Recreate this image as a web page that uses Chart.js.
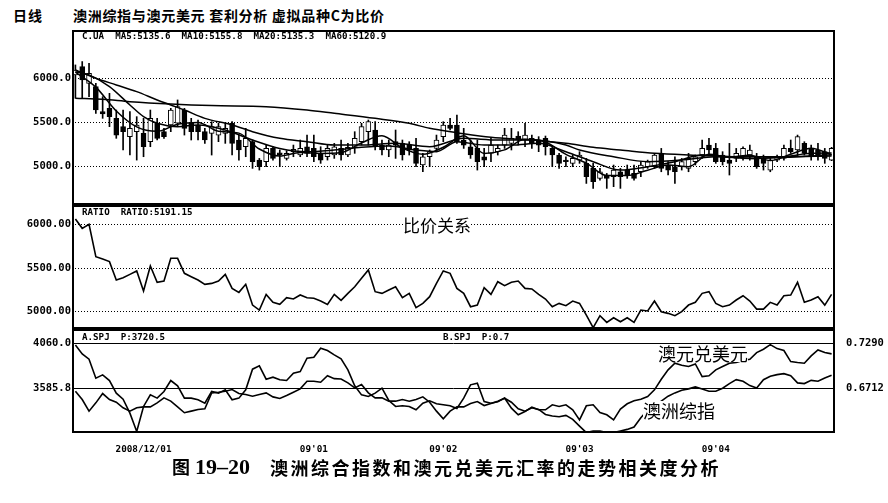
<!DOCTYPE html>
<html>
<head>
<meta charset="utf-8">
<script src="https://cdn.jsdelivr.net/npm/chart.js@4.4.1/dist/chart.umd.min.js"></script>
<style>
  body { margin: 0; background: #fff; }
  #wrap { position: relative; width: 888px; height: 503px; overflow: hidden; font-family: "Noto Sans CJK SC", sans-serif; color: #000; }
  canvas { position: absolute; left: 0; }
  .t { position: absolute; white-space: pre; line-height: 1; }
  .mono { font-family: "DejaVu Sans Mono", monospace; font-weight: bold; font-size: 9.2px; }
  .note { background: #fff; font-size: 18px; }
</style>
</head>
<body>
<div id="wrap">
  <div class="t" style="left:13px;top:8px;font-size:14px;font-weight:bold;letter-spacing:1px">日线</div>
  <div class="t" style="left:73px;top:8px;font-size:14px;font-weight:bold;letter-spacing:0.7px">澳洲综指与澳元美元 套利分析 虚拟品种C为比价</div>

  <canvas id="c1" width="888" height="175" style="top:30px"></canvas>
  <canvas id="c2" width="888" height="124" style="top:205px"></canvas>
  <canvas id="c3" width="888" height="126" style="top:329px"></canvas>

  <div class="t mono" style="left:82px;top:31px">C.UA  MA5:5135.6  MA10:5155.8  MA20:5135.3  MA60:5120.9</div>
  <div class="t mono" style="left:82px;top:207px">RATIO  RATIO:5191.15</div>
  <div class="t mono" style="left:82px;top:332px">A.SPJ  P:3720.5</div>
  <div class="t mono" style="left:443px;top:332px">B.SPJ  P:0.7</div>

  <div class="t note" style="left:403px;top:216px;font-size:17px">比价关系</div>
  <div class="t note" style="left:658px;top:344px">澳元兑美元</div>
  <div class="t note" style="left:643px;top:401px">澳洲综指</div>

  <div class="t" style="left:172px;top:457px;font-weight:bold;font-size:18px">图</div>
  <div class="t" style="left:195px;top:456px;font-family:'Liberation Serif',serif;font-weight:bold;font-size:22px">19–20</div>
  <div class="t" style="left:270px;top:458px;font-weight:bold;font-size:18px;letter-spacing:2.5px">澳洲综合指数和澳元兑美元汇率的走势相关度分析</div>
</div>

<script>
// daily bars of C.UA (virtual ratio product)
var open = [6038,6132,5943,5906,5623,5660,5547,5453,5340,5396, 5377,5283,5491,5396,5472,5491,5641,5491,5472,5396,
  5377,5358,5377,5491,5302,5226,5283,5075,5057,5207, 5158,5094,5170,5132,5226,5207,5151,5113,5132,5207,
  5132,5219,5283,5396,5415,5245,5189,5283,5264,5245, 5207,5019,5113,5207,5340,5472,5472,5302,5226,5207,
  5113,5151,5170,5245,5264,5347,5302,5321,5302,5321, 5207,5132,5075,5038,5075,5038,4981,4868,4906,4887,
  4943,4962,4924,4943,5000,5000,5151,5019,5000,5000, 4981,5057,5132,5245,5207,5132,5075,5094,5113,5132,
  5113,5094,4962,5075,5094,5207,5189,5264,5207,5189, 5170,5075];
var high = [6151,6189,6170,5943,5792,5830,5641,5641,5623,5566, 5547,5641,5547,5434,5660,5755,5660,5547,5528,5434,
  5509,5491,5491,5509,5358,5434,5302,5094,5245,5226, 5189,5181,5245,5302,5358,5358,5226,5245,5264,5302,
  5264,5396,5491,5528,5509,5302,5302,5415,5302,5283, 5321,5151,5189,5358,5509,5547,5585,5434,5302,5302,
  5207,5321,5245,5434,5434,5396,5491,5358,5340,5347, 5226,5151,5113,5132,5170,5094,5038,4981,4924,5019,
  4981,5019,5019,5057,5075,5151,5207,5057,5113,5094, 5151,5132,5302,5321,5264,5170,5264,5207,5226,5245,
  5151,5132,5094,5132,5245,5302,5358,5283,5245,5264, 5207,5219];
var low = [5774,5774,5792,5604,5547,5453,5321,5189,5132,5075, 5113,5226,5302,5321,5396,5453,5358,5302,5302,5264,
  5132,5283,5264,5132,5075,5113,4981,4962,5000,5075, 5000,5075,5113,5113,5113,5057,5038,5075,5094,5075,
  5113,5151,5245,5245,5189,5132,5113,5094,5075,5132, 5000,4943,5000,5189,5283,5415,5264,5207,5094,4962,
  5000,5057,5132,5207,5189,5245,5226,5207,5170,5132, 5000,4981,5000,5000,5038,4811,4755,4849,4755,4774,
  4755,4868,4849,4887,4981,4981,4943,4906,4811,4962, 4943,5019,5094,5132,5038,5019,4906,5057,5075,5075,
  4981,4962,4943,5057,5075,5151,5113,5132,5075,5075, 5038,5068];
var close = [6094,5981,6057,5641,5596,5566,5358,5396,5434,5472, 5226,5547,5321,5340,5641,5679,5434,5396,5396,5302,
  5453,5453,5434,5264,5189,5321,5057,5000,5207,5094, 5136,5151,5196,5207,5151,5113,5075,5207,5226,5132,
  5219,5321,5453,5509,5226,5189,5245,5245,5132,5189, 5038,5113,5170,5302,5472,5434,5283,5245,5132,5057,
  5075,5245,5207,5358,5321,5302,5358,5264,5245,5226, 5132,5038,5057,5094,5132,4887,4830,4943,4868,4962,
  4887,4906,4868,5019,5057,5132,4981,4962,4943,5057, 5094,5113,5207,5189,5057,5057,5038,5151,5207,5189,
  5000,5038,5075,5113,5207,5170,5340,5151,5113,5132, 5094,5207];

// moving average lines, read at the bars listed in the *Idx arrays
var ma5Idx = [0,3,6,9,12,15,18,21,24,27,30,33,36,39,42,45,48,51,54,57,60,63,66,69,72,75,78,81,84,87,90,93,96,99,102,105,108,111];
var ma5 = [6070,5900,5630,5450,5400,5480,5500,5400,5380,5200,5120,5160,5150,5160,5270,5350,5210,5140,5220,5350,5150,5190,5310,5280,5140,5040,4900,4900,4960,5020,5000,5140,5110,5130,5070,5140,5210,5136];
var ma10Idx = [0,2,5,8,10,12,15,18,22,26,30,34,38,42,46,50,53,56,60,64,68,72,76,80,84,88,92,96,100,104,108,111];
var ma10 = [6075,6038,5906,5698,5566,5491,5453,5472,5415,5302,5207,5170,5189,5219,5234,5189,5170,5283,5245,5245,5264,5170,5057,4962,5000,5057,5132,5113,5094,5113,5151,5156];
var ma20Idx = [0,3,6,9,12,14,16,19,23,26,30,34,38,42,47,52,57,62,67,72,74,79,84,89,94,99,104,111];
var ma20 = [6094,6000,5925,5849,5755,5698,5641,5547,5472,5396,5321,5283,5245,5245,5264,5226,5321,5302,5302,5245,5189,5113,5057,5075,5113,5094,5106,5135];
var ma60Idx = [0,4,8,14,20,28,34,38,44,49,52,56,61,67,72,76,80,85,90,98,104,111];
var ma60 = [5774,5762,5736,5709,5691,5679,5641,5604,5547,5491,5434,5385,5332,5302,5264,5219,5189,5151,5132,5113,5113,5121];

// RATIO line
var ratio = [6061,5954,6000,5630,5603,5573,5363,5389,5427,5466, 5237,5523,5336,5351,5611,5611,5439,5401,5363,5313,
  5324,5351,5427,5267,5221,5313,5076,5019,5198,5107, 5084,5160,5145,5191,5160,5153,5122,5084,5198,5130,
  5210,5286,5382,5477,5229,5210,5248,5286,5160,5210, 5046,5095,5172,5324,5466,5439,5267,5210,5057,5076,
  5275,5198,5343,5298,5336,5351,5267,5260,5198,5145, 5057,5095,5069,5122,5095,4962,4817,4954,4878,4931,
  4885,4931,4878,5019,5008,5122,5000,4981,4954,5000, 5076,5107,5210,5229,5095,5057,5076,5134,5183,5122,
  5030,5030,5107,5076,5183,5191,5336,5107,5134,5172, 5076,5198];

// A.SPJ  澳洲综指 (left axis)
var spjA = [3554,3467,3345,3432,3530,3467,3439,3380,3345,3380, 3390,3390,3432,3485,3450,3390,3328,3345,3363,3370,
  3537,3544,3554,3572,3530,3520,3502,3520,3537,3495, 3478,3509,3544,3579,3659,3659,3649,3718,3687,3683,
  3642,3589,3624,3537,3485,3485,3450,3450,3467,3450, 3467,3495,3439,3345,3265,3345,3390,3390,3425,3446,
  3404,3425,3450,3481,3439,3370,3345,3380,3363,3310, 3293,3286,3300,3258,3188,3119,3136,3136,3119,3119,
  3136,3153,3178,3275,3356,3397,3450,3502,3537,3565, 3579,3600,3579,3554,3554,3586,3635,3676,3659,3614,
  3589,3676,3711,3729,3739,3718,3642,3635,3669,3659, 3694,3722];
// B.SPJ  澳元兑美元 (right axis)
var spjB = [0.7269,0.7154,0.7086,0.6844,0.6886,0.6814,0.6653,0.6576,0.6398,0.6164, 0.6483,0.6631,0.6589,0.6674,0.6814,0.6746,0.6589,0.6589,0.6568,0.6525,
  0.6674,0.6653,0.6695,0.6568,0.6589,0.6695,0.6959,0.7001,0.6831,0.6857, 0.6823,0.6814,0.6908,0.6929,0.7099,0.7112,0.7226,0.7197,0.7141,0.7090,
  0.6950,0.6746,0.6631,0.6610,0.6653,0.6716,0.6559,0.6483,0.6491,0.6483, 0.6440,0.6525,0.6555,0.6517,0.6504,0.6491,0.6457,0.6589,0.6759,0.6780,
  0.6546,0.6525,0.6542,0.6589,0.6461,0.6376,0.6419,0.6474,0.6440,0.6440, 0.6504,0.6483,0.6504,0.6440,0.6312,0.6491,0.6504,0.6406,0.6376,0.6312,
  0.6449,0.6517,0.6555,0.6576,0.6610,0.6695,0.6831,0.6950,0.7035,0.7010, 0.6993,0.7026,0.6865,0.6874,0.6950,0.6993,0.7035,0.7044,0.7069,0.7086,
  0.7171,0.7214,0.7273,0.7222,0.7197,0.7056,0.7044,0.7035,0.7129,0.7205, 0.7171,0.7154];

var p1Ticks = [5000, 5500, 6000];
var p2Ticks = [5000, 5500, 6000];
var p3LeftTicks = [3585.8, 4060];
var p3RightTicks = [0.6712, 0.7290];
var xTickIdx = [10, 35, 54, 74, 94];
var xTickText = ['2008/12/01', "09'01", "09'02", "09'03", "09'04"];

var labels = close.map(function(v, i) { return i; });
var monoFont = { family: 'DejaVu Sans Mono', weight: 'bold', size: 10.5 };

Chart.defaults.animation = false;
Chart.defaults.events = [];
Chart.defaults.color = '#000';
Chart.defaults.plugins.legend.display = false;
Chart.defaults.plugins.tooltip.enabled = false;

var framePlugin = {
  id: 'frame',
  afterDatasetsDraw: function(chart) {
    var a = chart.chartArea, ctx = chart.ctx;
    ctx.save();
    ctx.strokeStyle = '#000';
    ctx.lineWidth = 2;
    ctx.strokeRect(a.left + 1, a.top + 1, a.right - a.left - 2, a.bottom - a.top - 2);
    ctx.restore();
  }
};

// fix axis width and drop the label half-height padding so panels line up
function fixWidth(w) {
  return function(scale) {
    scale.width = w;
    scale.paddingTop = 0;
    scale.paddingBottom = 0;
  };
}
function setTicks(list) {
  return function(scale) {
    scale.ticks = list.map(function(v) { return { value: v }; });
  };
}
function pts(idx, vals) {
  return idx.map(function(x, k) { return { x: x, y: vals[k] }; });
}
function maLine(idx, vals) {
  return {
    type: 'line', data: pts(idx, vals), borderColor: '#000', borderWidth: 1.5,
    pointRadius: 0, cubicInterpolationMode: 'monotone', order: 0
  };
}
function leftAxis(min, max, list, digits, dash) {
  return {
    position: 'left', min: min, max: max,
    afterBuildTicks: setTicks(list), afterFit: fixWidth(72),
    grid: { color: '#000', lineWidth: 1, drawTicks: false },
    border: { display: false, dash: dash },
    ticks: { font: monoFont, padding: 1, callback: function(v) { return v.toFixed(digits); } }
  };
}

// panel 1: candles + MA lines
new Chart(document.getElementById('c1'), {
  type: 'bar',
  data: {
    labels: labels,
    datasets: [
      { data: low.map(function(l, i) { return [l, high[i]]; }), backgroundColor: '#000',
        barThickness: 1, grouped: false, order: 2 },
      { data: open.map(function(o, i) { return [o, close[i]]; }),
        backgroundColor: close.map(function(c, i) { return c >= open[i] ? '#fff' : '#000'; }),
        borderColor: '#000', borderWidth: 1, borderSkipped: false,
        barThickness: 5, grouped: false, order: 1 },
      maLine(ma5Idx, ma5), maLine(ma10Idx, ma10), maLine(ma20Idx, ma20), maLine(ma60Idx, ma60)
    ]
  },
  options: {
    responsive: false,
    layout: { padding: { right: 53 } },
    scales: {
      x: { display: false },
      y: leftAxis(4567, 6546, p1Ticks, 1, [1, 2])
    }
  },
  plugins: [framePlugin]
});

// panel 2: ratio
new Chart(document.getElementById('c2'), {
  type: 'line',
  data: {
    labels: labels,
    datasets: [{ data: ratio, borderColor: '#000', borderWidth: 1.6, pointRadius: 0 }]
  },
  options: {
    responsive: false,
    layout: { padding: { right: 53 } },
    scales: {
      x: { display: false, offset: true },
      y: leftAxis(4802, 6221, p2Ticks, 2, [1, 2])
    }
  },
  plugins: [framePlugin]
});

// panel 3: index vs AUD/USD
new Chart(document.getElementById('c3'), {
  type: 'line',
  data: {
    labels: labels,
    datasets: [
      { data: spjA, yAxisID: 'y', borderColor: '#000', borderWidth: 1.6, pointRadius: 0 },
      { data: spjB, yAxisID: 'y1', borderColor: '#000', borderWidth: 1.6, pointRadius: 0 }
    ]
  },
  options: {
    responsive: false,
    scales: {
      x: {
        offset: true,
        grid: { display: false },
        border: { display: false },
        afterFit: function(scale) { scale.height = 22; scale.paddingLeft = 0; scale.paddingRight = 0; },
        ticks: {
          autoSkip: false, maxRotation: 0, padding: 3,
          font: { family: 'DejaVu Sans Mono', weight: 'bold', size: 9.3 },
          callback: function(v, i) {
            var k = xTickIdx.indexOf(i);
            return k >= 0 ? xTickText[k] : '';
          }
        }
      },
      y: leftAxis(3115, 4209, p3LeftTicks, 1, []),
      y1: {
        position: 'right', min: 0.6144, max: 0.7472,
        afterBuildTicks: setTicks(p3RightTicks), afterFit: fixWidth(53),
        grid: { display: false },
        border: { display: false },
        ticks: { font: monoFont, padding: 3, callback: function(v) { return v.toFixed(4); } }
      }
    }
  },
  plugins: [framePlugin]
});
</script>
</body>
</html>
